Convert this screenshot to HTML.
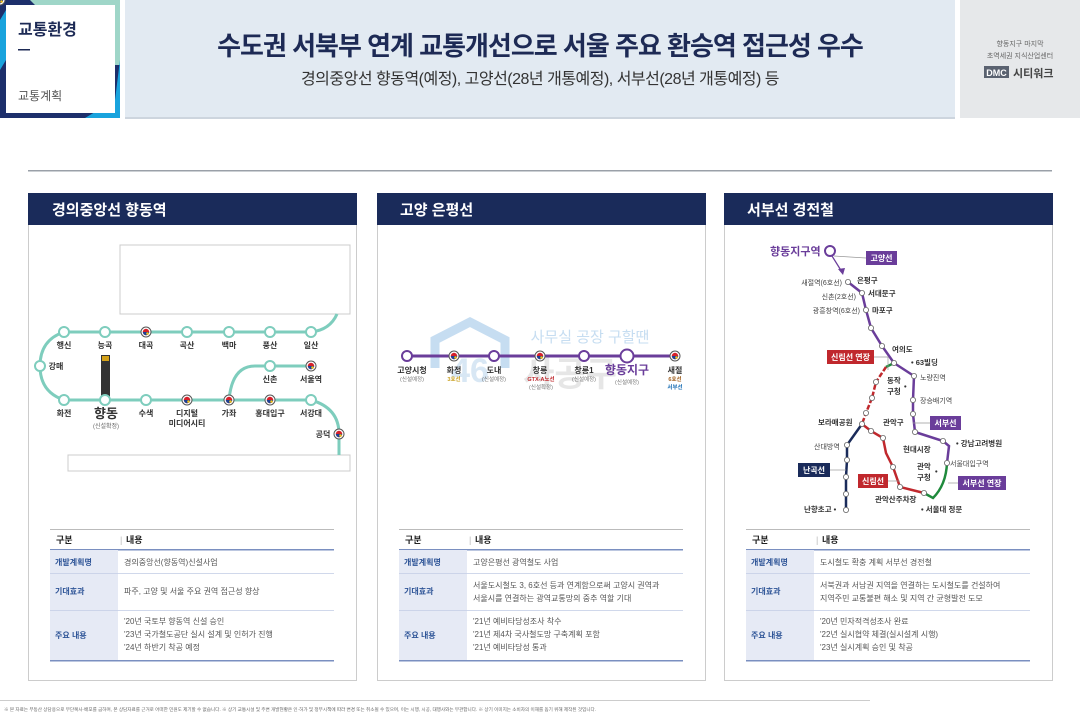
<!DOCTYPE html>
<html><head><meta charset="utf-8"><style>
body{margin:0;width:1080px;height:714px;overflow:hidden;background:#fff}
svg{display:block}
text{font-family:"Liberation Sans","Noto Sans CJK KR",sans-serif}
</style></head><body>
<svg width="1080" height="714" viewBox="0 0 1080 714" xmlns="http://www.w3.org/2000/svg">
<rect x="0" y="0" width="120" height="118" fill="#1d2f6b"/>
<polygon points="30,0 120,0 120,65 115,65 115,5 35,5" fill="#9fd6c8"/>
<polygon points="120,60 120,118 85,118 115,100" fill="#19a3dd"/>
<polygon points="0,20 6,10 6,60 0,70" fill="#19a3dd"/>
<rect x="6" y="5" width="109" height="108" fill="#fff"/>
<text x="18" y="35" font-size="16" font-weight="bold" fill="#1d2a55">교통환경</text>
<rect x="18" y="49" width="12" height="1.5" fill="#1d2a55"/>
<text x="18" y="100" font-size="12" fill="#555">교통계획</text>
<rect x="125" y="0" width="830" height="118" fill="#e2eaf2"/>
<rect x="125" y="117" width="830" height="2" fill="#cdd5de"/>
<text x="540" y="55" font-size="26" font-weight="bold" fill="#1d2a55" text-anchor="middle" letter-spacing="-1">수도권 서북부 연계 교통개선으로 서울 주요 환승역 접근성 우수</text>
<text x="540" y="84" font-size="16" fill="#333" text-anchor="middle" letter-spacing="-0.5">경의중앙선 향동역(예정), 고양선(28년 개통예정), 서부선(28년 개통예정) 등</text>
<rect x="960" y="0" width="120" height="118" fill="#e6e8ea"/>
<text x="1020" y="46" font-size="7" fill="#666" text-anchor="middle">향동지구 마지막</text>
<text x="1020" y="58" font-size="7" fill="#666" text-anchor="middle">초역세권 지식산업센터</text>
<rect x="984" y="66" width="25" height="12" fill="#5a6270"/>
<text x="996.5" y="76" font-size="9" fill="#fff" text-anchor="middle" font-weight="bold">DMC</text>
<text x="1013" y="77" font-size="11" fill="#444" font-weight="bold">시티워크</text>
<rect x="28" y="170" width="1024" height="1.5" fill="#9aa0a8"/>

<g fill="#fff" stroke="#ccc" stroke-width="1">
<rect x="28.5" y="193.5" width="328" height="487"/>
<rect x="377.5" y="193.5" width="328" height="487"/>
<rect x="724.5" y="193.5" width="328" height="487"/>
</g>
<rect x="28" y="193" width="329" height="32" fill="#1a2b5a"/>
<rect x="377" y="193" width="329" height="32" fill="#1a2b5a"/>
<rect x="724" y="193" width="329" height="32" fill="#1a2b5a"/>
<g font-size="15" font-weight="bold" fill="#fff">
<text x="52" y="215">경의중앙선 향동역</text>
<text x="400" y="215">고양 은평선</text>
<text x="747" y="215">서부선 경전철</text>
</g>

<rect x="120" y="245" width="230" height="69" fill="#fff" stroke="#ccc"/>
<rect x="68" y="455" width="282" height="16" fill="#fff" stroke="#ccc"/>
<g fill="none" stroke="#7ecdbd" stroke-width="3">
<path d="M64,332 H311 Q330,330 337,314"/>
<path d="M64,332 Q40,340 40,366 Q40,392 64,400 H311 Q339,408 339,434 V455"/>
<path d="M229,400 Q232,366 255,366 H311"/>
</g>
<rect x="101" y="355" width="9" height="45" fill="#333"/>
<rect x="102" y="356" width="7" height="5" fill="#d4a21a"/>
<g fill="#fff" stroke="#7ecdbd" stroke-width="2">
<circle cx="64" cy="332" r="5"/><circle cx="105" cy="332" r="5"/><circle cx="187" cy="332" r="5"/><circle cx="229" cy="332" r="5"/><circle cx="270" cy="332" r="5"/><circle cx="311" cy="332" r="5"/>
<circle cx="40" cy="366" r="5"/><circle cx="270" cy="366" r="5"/>
<circle cx="64" cy="400" r="5"/><circle cx="105" cy="400" r="5"/><circle cx="146" cy="400" r="5"/><circle cx="311" cy="400" r="5"/>
</g>
<g>
<g id="tg"><circle r="5" fill="#fff" stroke="#555" stroke-width="1"/><circle r="3.2" fill="#d6202a"/><path d="M-3.2,0 A3.2,3.2 0 0 0 3.2,0 Z" fill="#1c3f94"/><circle cx="1.5" cy="1.5" r="1.3" fill="#f2c01a"/></g>
</g>
<use href="#tg" x="146" y="332"/><use href="#tg" x="311" y="366"/><use href="#tg" x="187" y="400"/><use href="#tg" x="229" y="400"/><use href="#tg" x="270" y="400"/><use href="#tg" x="339" y="434"/>
<g font-size="8" fill="#333" text-anchor="middle" font-weight="bold">
<text x="64" y="348">행신</text><text x="105" y="348">능곡</text><text x="146" y="348">대곡</text><text x="187" y="348">곡산</text><text x="229" y="348">백마</text><text x="270" y="348">풍산</text><text x="311" y="348">일산</text>
<text x="56" y="369">강매</text><text x="270" y="382">신촌</text><text x="311" y="382">서울역</text>
<text x="64" y="416">화전</text><text x="146" y="416">수색</text><text x="187" y="416">디지털</text><text x="187" y="426">미디어시티</text><text x="229" y="416">가좌</text><text x="270" y="416">홍대입구</text><text x="311" y="416">서강대</text>
<text x="323" y="437">공덕</text>
<text x="106" y="418" font-size="13">향동</text>
<text x="106" y="428" font-size="6" font-weight="normal" fill="#666">(신설확정)</text>
</g>

<text x="590" y="342" font-size="15" fill="#c6ddf1" text-anchor="middle">사무실 공장 구할땐</text>
<path d="M435,368 V340 L470,322 L505,340 V368" fill="none" stroke="#c6ddf1" stroke-width="9"/>
<text x="470" y="382" font-size="34" font-weight="bold" fill="#cfe2f2" text-anchor="middle" opacity="0.8">46</text>
<text x="570" y="386" font-size="34" font-weight="bold" fill="#e6e6e6" text-anchor="middle">사공구</text>
<line x1="407" y1="356" x2="675" y2="356" stroke="#6a3d9a" stroke-width="3"/>
<g fill="#fff" stroke="#6a3d9a" stroke-width="2">
<circle cx="407" cy="356" r="5"/><circle cx="494" cy="356" r="5"/><circle cx="584" cy="356" r="5"/><circle cx="627" cy="356" r="6.5"/>
</g>
<use href="#tg" x="454" y="356"/><use href="#tg" x="540" y="356"/><use href="#tg" x="675" y="356"/>
<g font-size="8" fill="#333" text-anchor="middle" font-weight="bold">
<text x="412" y="373">고양시청</text><text x="454" y="373">화정</text><text x="494" y="373">도내</text><text x="540" y="373">창릉</text><text x="584" y="373">창릉1</text><text x="675" y="373">새절</text>
<text x="627" y="374" font-size="12" fill="#6a3d9a">향동지구</text>
</g>
<g font-size="5.5" fill="#777" text-anchor="middle">
<text x="412" y="381">(신설예정)</text><text x="494" y="381">(신설예정)</text><text x="584" y="381">(신설예정)</text><text x="627" y="384">(신설예정)</text><text x="541" y="389">(신설확정)</text>
<text x="454" y="381" fill="#c9a020" font-weight="bold">3호선</text>
<text x="541" y="381" fill="#c0282d" font-weight="bold">GTX-A노선</text>
<text x="675" y="381" fill="#a06020" font-weight="bold">6호선</text>
<text x="675" y="389" fill="#1c6fb4" font-weight="bold">서부선</text>
</g>

<g fill="none" stroke-width="2.5">
<polyline stroke="#6a3d9a" points="848,282 862,293 866,310 871,328 882,346 894,363 914,376 913,400 913,414 915,432 943,441 949,446 947,463"/>
<path stroke="#1f8a3c" d="M947,463 Q946,485 933,498 L924,493 M894,363 L886,367"/>
<polyline stroke="#c0282d" stroke-dasharray="5,2" points="886,367 876,382 872,398 866,413 862,424"/>
<polyline stroke="#c0282d" points="862,424 871,431 883,438 886,453 893,467 900,487 924,493"/>
<polyline stroke="#1a2b5a" points="862,424 847,445 847,460 846,477 846,494 846,510"/>
</g>
<circle cx="830" cy="251" r="5" fill="#fff" stroke="#6a3d9a" stroke-width="2"/>
<line x1="832" y1="256" x2="842" y2="272" stroke="#6a3d9a" stroke-width="1.2"/>
<polygon points="843,275 838,269 845,268" fill="#6a3d9a"/>
<g fill="#fff" stroke="#666" stroke-width="0.8">
<circle cx="848" cy="282" r="2.6"/><circle cx="862" cy="293" r="2.6"/><circle cx="866" cy="310" r="2.6"/><circle cx="871" cy="328" r="2.6"/><circle cx="882" cy="346" r="2.6"/><circle cx="894" cy="363" r="2.6"/><circle cx="914" cy="376" r="2.6"/><circle cx="913" cy="400" r="2.6"/><circle cx="913" cy="414" r="2.6"/><circle cx="915" cy="432" r="2.6"/><circle cx="943" cy="441" r="2.6"/><circle cx="947" cy="463" r="2.6"/><circle cx="924" cy="493" r="2.6"/><circle cx="876" cy="382" r="2.6"/><circle cx="872" cy="398" r="2.6"/><circle cx="866" cy="413" r="2.6"/><circle cx="862" cy="424" r="2.6"/><circle cx="871" cy="431" r="2.6"/><circle cx="883" cy="438" r="2.6"/><circle cx="893" cy="467" r="2.6"/><circle cx="900" cy="487" r="2.6"/><circle cx="847" cy="445" r="2.6"/><circle cx="847" cy="460" r="2.6"/><circle cx="846" cy="477" r="2.6"/><circle cx="846" cy="494" r="2.6"/><circle cx="846" cy="510" r="2.6"/>
</g>
<g stroke="#999" stroke-width="0.7" fill="none">
<polyline points="834,256 866,258"/><polyline points="874,357 888,357 888,370"/><polyline points="913,423 930,423"/><polyline points="830,470 846,470"/><polyline points="888,481 900,481"/><polyline points="948,483 958,483"/>
</g>
<text x="770" y="255" font-size="11" font-weight="bold" fill="#6a3d9a">향동지구역</text>
<g font-size="8" font-weight="bold" fill="#fff" text-anchor="middle">
<rect x="866" y="251" width="31" height="14" fill="#6a3d9a"/><text x="881.5" y="261">고양선</text>
<rect x="827" y="350" width="47" height="14" fill="#c0282d"/><text x="850.5" y="360">신림선 연장</text>
<rect x="930" y="416" width="31" height="14" fill="#6a3d9a"/><text x="945.5" y="426">서부선</text>
<rect x="798" y="463" width="32" height="14" fill="#1a2b5a"/><text x="814" y="473">난곡선</text>
<rect x="858" y="474" width="30" height="14" fill="#c0282d"/><text x="873" y="484">신림선</text>
<rect x="958" y="476" width="48" height="14" fill="#6a3d9a"/><text x="982" y="486">서부선 연장</text>
</g>
<g font-size="7" fill="#444">
<text x="842" y="285" text-anchor="end">새절역(6호선)</text>
<text x="856" y="299" text-anchor="end">신촌(2호선)</text>
<text x="860" y="313" text-anchor="end">광흥창역(6호선)</text>
<text x="920" y="380">노량진역</text>
<text x="920" y="403">장승배기역</text>
<text x="950" y="466">서울대입구역</text>
<text x="814" y="449">산대방역</text>
</g>
<g font-size="7.5" fill="#333" font-weight="bold">
<text x="857" y="283">은평구</text><text x="868" y="296">서대문구</text><text x="872" y="313">마포구</text>
<text x="892" y="352">여의도</text><text x="911" y="365">• 63빌딩</text>
<text x="887" y="383">동작</text><text x="887" y="394">구청</text><text x="904" y="389">•</text>
<text x="883" y="425">관악구</text><text x="818" y="425">보라매공원</text>
<text x="903" y="452">현대시장</text><text x="956" y="446">• 강남고려병원</text>
<text x="917" y="469">관악</text><text x="917" y="480">구청</text><text x="935" y="474">•</text>
<text x="875" y="502">관악산주차장</text><text x="921" y="512">• 서울대 정문</text>
<text x="804" y="512">난향초고 •</text>
</g>

<g>
<g transform="translate(0,0)">
<rect x="50" y="529" width="284" height="1" fill="#bbb"/>
<text x="56" y="543" font-size="9" font-weight="bold" fill="#222">구분</text><text x="120" y="543" font-size="9" fill="#bbb">|</text><text x="126" y="543" font-size="9" font-weight="bold" fill="#222">내용</text>
<rect x="50" y="549" width="284" height="1.5" fill="#7a8fc0"/>
<rect x="50" y="550" width="68" height="110" fill="#e6eaf5"/>
<rect x="50" y="573" width="284" height="0.8" fill="#c5cfe6"/><rect x="50" y="610" width="284" height="0.8" fill="#c5cfe6"/>
<rect x="50" y="660" width="284" height="1.5" fill="#7a8fc0"/>
<g font-size="8" font-weight="bold" fill="#2f5597"><text x="55" y="565">개발계획명</text><text x="55" y="594">기대효과</text><text x="55" y="638">주요 내용</text></g>
<g font-size="8" fill="#555"><text x="124" y="565">경의중앙선(향동역)신설사업</text><text x="124" y="594">파주, 고양 및 서울 주요 권역 접근성 향상</text><text x="124" y="624">'20년 국토부 향동역 신설 승인</text><text x="124" y="637">'23년 국가철도공단 실시 설계 및 인허가 진행</text><text x="124" y="650">'24년 하반기 착공 예정</text></g>
</g>
<g transform="translate(349,0)">
<rect x="50" y="529" width="284" height="1" fill="#bbb"/>
<text x="56" y="543" font-size="9" font-weight="bold" fill="#222">구분</text><text x="120" y="543" font-size="9" fill="#bbb">|</text><text x="126" y="543" font-size="9" font-weight="bold" fill="#222">내용</text>
<rect x="50" y="549" width="284" height="1.5" fill="#7a8fc0"/>
<rect x="50" y="550" width="68" height="110" fill="#e6eaf5"/>
<rect x="50" y="573" width="284" height="0.8" fill="#c5cfe6"/><rect x="50" y="610" width="284" height="0.8" fill="#c5cfe6"/>
<rect x="50" y="660" width="284" height="1.5" fill="#7a8fc0"/>
<g font-size="8" font-weight="bold" fill="#2f5597"><text x="55" y="565">개발계획명</text><text x="55" y="594">기대효과</text><text x="55" y="638">주요 내용</text></g>
<g font-size="8" fill="#555"><text x="124" y="565">고양은평선 광역철도 사업</text><text x="124" y="588">서울도시철도 3, 6호선 등과 연계함으로써 고양시 권역과</text><text x="124" y="601">서울시를 연결하는 광역교통망의 중추 역할 기대</text><text x="124" y="624">'21년 예비타당성조사 착수</text><text x="124" y="637">'21년 제4차 국사철도망 구축계획 포함</text><text x="124" y="650">'21년 예비타당성 통과</text></g>
</g>
<g transform="translate(696,0)">
<rect x="50" y="529" width="284" height="1" fill="#bbb"/>
<text x="56" y="543" font-size="9" font-weight="bold" fill="#222">구분</text><text x="120" y="543" font-size="9" fill="#bbb">|</text><text x="126" y="543" font-size="9" font-weight="bold" fill="#222">내용</text>
<rect x="50" y="549" width="284" height="1.5" fill="#7a8fc0"/>
<rect x="50" y="550" width="68" height="110" fill="#e6eaf5"/>
<rect x="50" y="573" width="284" height="0.8" fill="#c5cfe6"/><rect x="50" y="610" width="284" height="0.8" fill="#c5cfe6"/>
<rect x="50" y="660" width="284" height="1.5" fill="#7a8fc0"/>
<g font-size="8" font-weight="bold" fill="#2f5597"><text x="55" y="565">개발계획명</text><text x="55" y="594">기대효과</text><text x="55" y="638">주요 내용</text></g>
<g font-size="8" fill="#555"><text x="124" y="565">도시철도 확충 계획 서부선 경전철</text><text x="124" y="588">서북권과 서남권 지역을 연결하는 도시철도를 건설하여</text><text x="124" y="601">지역주민 교통불편 해소 및 지역 간 균형발전 도모</text><text x="124" y="624">'20년 민자적격성조사 완료</text><text x="124" y="637">'22년 실시협약 체결(실시설계 시행)</text><text x="124" y="650">'23년 실시계획 승인 및 착공</text></g>
</g>
</g>

<rect x="0" y="700" width="870" height="1" fill="#ccc"/>
<text x="4" y="711" font-size="4.6" fill="#666">※ 본 자료는 부동산 상담용으로 무단복사·배포를 금하며, 본 상담자료를 근거로 어떠한 민원도 제기할 수 없습니다. ※ 상기 교통시설 및 주변 개발현황은 인·허가 및 정부시책에 따라 변경 또는 취소될 수 있으며, 이는 시행, 시공, 대행사와는 무관합니다. ※ 상기 이미지는 소비자의 이해를 돕기 위해 제작된 것입니다.</text>
</svg>
</body></html>
